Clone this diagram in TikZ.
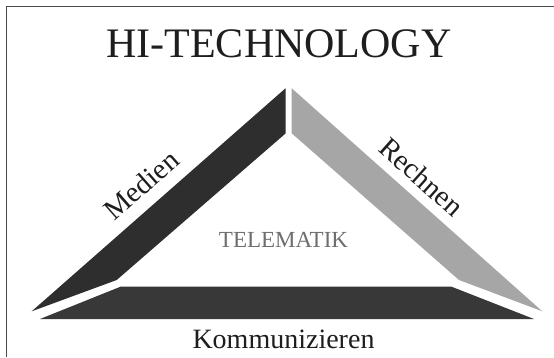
\documentclass[tikz,border=0pt]{standalone}
\usepackage{fontspec}
\setmainfont{Liberation Serif}
\definecolor{Ink}{HTML}{1E1E1E}
\definecolor{Frame}{HTML}{4A4A4A}
\definecolor{BarDark}{HTML}{2E2E2E}
\definecolor{BarBase}{HTML}{383838}
\definecolor{BarLight}{HTML}{A6A6A6}
\definecolor{Caption}{HTML}{6E6E6E}

\begin{document}
\begin{tikzpicture}[x=1pt,y=-1pt,every node/.style={text=Ink,inner sep=0pt},sidelabel/.style={font=\fontsize{29}{29}\selectfont,sloped},bar/.style={draw=none}]
\useasboundingbox (0,0) rectangle (554,357);
\fill[white] (0,0) rectangle (554,357);
\draw[Frame,line width=0.8pt] (6,357) -- (6,6) -- (554,6);
% corner points of the three bars
\coordinate (apexL) at (285.5,88.3);
\coordinate (cutL) at (285.5,133.5);
\coordinate (bendL) at (116.7,280);
\coordinate (tipL) at (31.7,311.3);
\coordinate (apexR) at (291.7,88.3);
\coordinate (cutR) at (291.7,133.3);
\coordinate (bendR) at (459,280);
\coordinate (tipR) at (542.3,311.3);
\coordinate (baseTL) at (121,286.5);
\coordinate (baseTR) at (451,286.5);
\coordinate (baseBR) at (534,319);
\coordinate (baseBL) at (40,319);
\fill[bar,BarDark] (apexL) -- (cutL) -- (bendL) -- (tipL) -- cycle;
\fill[bar,BarLight] (apexR) -- (cutR) -- (bendR) -- (tipR) -- cycle;
\fill[bar,BarBase] (baseTL) -- (baseTR) -- (baseBR) -- (baseBL) -- cycle;
\node[anchor=base,font=\fontsize{42}{42}\selectfont] (title) at (279,57) {HI-TECHNOLOGY};
\node[anchor=base,text=Caption,font=\fontsize{23}{23}\selectfont] (telematik) at (283.5,247) {TELEMATIK};
\node[anchor=base,font=\fontsize{28}{28}\selectfont] (komm) at (283.5,348) {Kommunizieren};
\path (tipL) -- (apexL) node[sidelabel,above=12pt,pos=0.49] (medien) {Medien};
\path (apexR) -- (tipR) node[sidelabel,above=10pt,pos=0.465] (rechnen) {Rechnen};
\end{tikzpicture}
\end{document}
